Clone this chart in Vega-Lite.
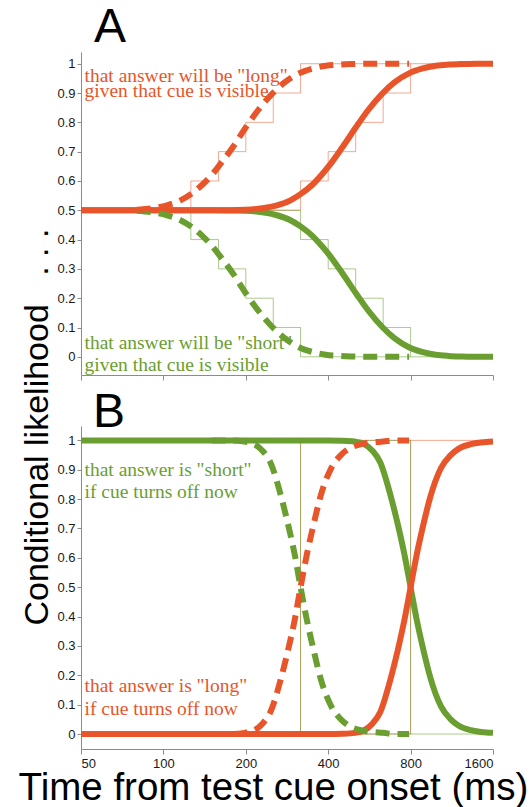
{
  "$schema": "https://vega.github.io/schema/vega-lite/v6.json",
  "background": "white",
  "padding": {"left": 18, "top": 3, "right": 5, "bottom": 0},
  "spacing": 51,
  "bounds": "flush",
  "config": {
    "view": {"stroke": null},
    "axis": {
      "grid": false,
      "domainColor": "#8c8c8c",
      "tickColor": "#8c8c8c",
      "labelFont": "Liberation Sans",
      "labelFontSize": 13,
      "labelColor": "#1a1a1a",
      "titleFont": "Liberation Sans",
      "titleFontWeight": "normal",
      "titleColor": "#000000"
    },
    "title": {"font": "Liberation Sans", "fontWeight": "normal", "color": "#000000"}
  },
  "datasets": {
    "Acurves": [
      {"s":"RS","x":50,"y":0.5},{"s":"RS","x":150,"y":0.5},{"s":"RS","x":200,"y":0.502},{"s":"RS","x":230,"y":0.507},{"s":"RS","x":260,"y":0.517},{"s":"RS","x":290,"y":0.533},{"s":"RS","x":317,"y":0.555},{"s":"RS","x":351,"y":0.588},{"s":"RS","x":380,"y":0.623},{"s":"RS","x":404,"y":0.653},{"s":"RS","x":450,"y":0.714},{"s":"RS","x":505,"y":0.783},{"s":"RS","x":560,"y":0.842},{"s":"RS","x":633,"y":0.9},{"s":"RS","x":700,"y":0.937},{"s":"RS","x":792,"y":0.968},{"s":"RS","x":880,"y":0.983},{"s":"RS","x":988,"y":0.993},{"s":"RS","x":1100,"y":0.997},{"s":"RS","x":1240,"y":0.999},{"s":"RS","x":1400,"y":1.0},{"s":"RS","x":1600,"y":1.0},
      {"s":"GS","x":50,"y":0.5},{"s":"GS","x":150,"y":0.5},{"s":"GS","x":200,"y":0.498},{"s":"GS","x":230,"y":0.493},{"s":"GS","x":260,"y":0.483},{"s":"GS","x":290,"y":0.467},{"s":"GS","x":317,"y":0.445},{"s":"GS","x":351,"y":0.412},{"s":"GS","x":380,"y":0.377},{"s":"GS","x":404,"y":0.347},{"s":"GS","x":450,"y":0.286},{"s":"GS","x":505,"y":0.217},{"s":"GS","x":560,"y":0.158},{"s":"GS","x":633,"y":0.1},{"s":"GS","x":700,"y":0.063},{"s":"GS","x":792,"y":0.032},{"s":"GS","x":880,"y":0.017},{"s":"GS","x":988,"y":0.007},{"s":"GS","x":1100,"y":0.003},{"s":"GS","x":1240,"y":0.001},{"s":"GS","x":1400,"y":0.0},{"s":"GS","x":1600,"y":0.0},
      {"s":"RD","x":80,"y":0.502},{"s":"RD","x":91,"y":0.507},{"s":"RD","x":103,"y":0.517},{"s":"RD","x":115,"y":0.533},{"s":"RD","x":126,"y":0.555},{"s":"RD","x":139,"y":0.588},{"s":"RD","x":151,"y":0.623},{"s":"RD","x":160,"y":0.653},{"s":"RD","x":179,"y":0.714},{"s":"RD","x":200,"y":0.783},{"s":"RD","x":222,"y":0.842},{"s":"RD","x":251,"y":0.9},{"s":"RD","x":278,"y":0.937},{"s":"RD","x":314,"y":0.968},{"s":"RD","x":349,"y":0.983},{"s":"RD","x":392,"y":0.993},{"s":"RD","x":437,"y":0.997},{"s":"RD","x":492,"y":0.999},{"s":"RD","x":556,"y":1.0},{"s":"RD","x":790,"y":1.0},
      {"s":"GD","x":80,"y":0.498},{"s":"GD","x":91,"y":0.493},{"s":"GD","x":103,"y":0.483},{"s":"GD","x":115,"y":0.467},{"s":"GD","x":126,"y":0.445},{"s":"GD","x":139,"y":0.412},{"s":"GD","x":151,"y":0.377},{"s":"GD","x":160,"y":0.347},{"s":"GD","x":179,"y":0.286},{"s":"GD","x":200,"y":0.217},{"s":"GD","x":222,"y":0.158},{"s":"GD","x":251,"y":0.1},{"s":"GD","x":278,"y":0.063},{"s":"GD","x":314,"y":0.032},{"s":"GD","x":349,"y":0.017},{"s":"GD","x":392,"y":0.007},{"s":"GD","x":437,"y":0.003},{"s":"GD","x":492,"y":0.001},{"s":"GD","x":556,"y":0.0},{"s":"GD","x":790,"y":0.0}
    ],
    "Asteps": [
      {"s":"RS","x":50,"y":0.5},{"s":"RS","x":317,"y":0.6},{"s":"RS","x":400,"y":0.7},{"s":"RS","x":504,"y":0.8},{"s":"RS","x":635,"y":0.9},{"s":"RS","x":800,"y":1.0},{"s":"RS","x":1600,"y":1.0},
      {"s":"GS","x":50,"y":0.5},{"s":"GS","x":317,"y":0.4},{"s":"GS","x":400,"y":0.3},{"s":"GS","x":504,"y":0.2},{"s":"GS","x":635,"y":0.1},{"s":"GS","x":800,"y":0.0},{"s":"GS","x":1600,"y":0.0},
      {"s":"RD","x":50,"y":0.5},{"s":"RD","x":126,"y":0.6},{"s":"RD","x":159,"y":0.7},{"s":"RD","x":200,"y":0.8},{"s":"RD","x":252,"y":0.9},{"s":"RD","x":317,"y":1.0},{"s":"RD","x":800,"y":1.0},
      {"s":"GD","x":50,"y":0.5},{"s":"GD","x":126,"y":0.4},{"s":"GD","x":159,"y":0.3},{"s":"GD","x":200,"y":0.2},{"s":"GD","x":252,"y":0.1},{"s":"GD","x":317,"y":0.0},{"s":"GD","x":800,"y":0.0}
    ],
    "Atext": [
      {"c":"long","x":51.5,"y":0.937,"t":"that answer will be \"long\""},
      {"c":"long","x":51.5,"y":0.886,"t":"given that cue is visible"},
      {"c":"short","x":51.5,"y":0.027,"t":"that answer will be \"short\""},
      {"c":"short","x":51.5,"y":-0.048,"t":"given that cue is visible"}
    ],
    "Bcurves": [
      {"s":"RS","x":50,"y":0},{"s":"RS","x":400,"y":0},{"s":"RS","x":450,"y":0.001},{"s":"RS","x":500,"y":0.004},{"s":"RS","x":540,"y":0.012},{"s":"RS","x":580,"y":0.035},{"s":"RS","x":620,"y":0.075},{"s":"RS","x":677,"y":0.19},{"s":"RS","x":720,"y":0.29},{"s":"RS","x":760,"y":0.39},{"s":"RS","x":800,"y":0.5},{"s":"RS","x":842,"y":0.61},{"s":"RS","x":889,"y":0.71},{"s":"RS","x":946,"y":0.81},{"s":"RS","x":1032,"y":0.905},{"s":"RS","x":1121,"y":0.95},{"s":"RS","x":1200,"y":0.972},{"s":"RS","x":1327,"y":0.987},{"s":"RS","x":1450,"y":0.993},{"s":"RS","x":1600,"y":0.996},
      {"s":"GS","x":50,"y":1},{"s":"GS","x":400,"y":1},{"s":"GS","x":450,"y":0.999},{"s":"GS","x":500,"y":0.996},{"s":"GS","x":540,"y":0.988},{"s":"GS","x":580,"y":0.965},{"s":"GS","x":620,"y":0.925},{"s":"GS","x":677,"y":0.81},{"s":"GS","x":720,"y":0.71},{"s":"GS","x":760,"y":0.61},{"s":"GS","x":800,"y":0.5},{"s":"GS","x":842,"y":0.39},{"s":"GS","x":889,"y":0.29},{"s":"GS","x":946,"y":0.19},{"s":"GS","x":1032,"y":0.095},{"s":"GS","x":1121,"y":0.05},{"s":"GS","x":1200,"y":0.028},{"s":"GS","x":1327,"y":0.013},{"s":"GS","x":1450,"y":0.007},{"s":"GS","x":1600,"y":0.004},
      {"s":"RD","x":150,"y":0},{"s":"RD","x":180,"y":0},{"s":"RD","x":198,"y":0.004},{"s":"RD","x":214,"y":0.012},{"s":"RD","x":230,"y":0.035},{"s":"RD","x":246,"y":0.075},{"s":"RD","x":269,"y":0.19},{"s":"RD","x":286,"y":0.29},{"s":"RD","x":302,"y":0.39},{"s":"RD","x":317,"y":0.5},{"s":"RD","x":334,"y":0.61},{"s":"RD","x":353,"y":0.71},{"s":"RD","x":375,"y":0.81},{"s":"RD","x":410,"y":0.905},{"s":"RD","x":445,"y":0.95},{"s":"RD","x":476,"y":0.972},{"s":"RD","x":527,"y":0.987},{"s":"RD","x":575,"y":0.993},{"s":"RD","x":635,"y":0.996},{"s":"RD","x":700,"y":1.0},{"s":"RD","x":790,"y":1.0},
      {"s":"GD","x":150,"y":1},{"s":"GD","x":180,"y":1},{"s":"GD","x":198,"y":0.996},{"s":"GD","x":214,"y":0.988},{"s":"GD","x":230,"y":0.965},{"s":"GD","x":246,"y":0.925},{"s":"GD","x":269,"y":0.81},{"s":"GD","x":286,"y":0.71},{"s":"GD","x":302,"y":0.61},{"s":"GD","x":317,"y":0.5},{"s":"GD","x":334,"y":0.39},{"s":"GD","x":353,"y":0.29},{"s":"GD","x":375,"y":0.19},{"s":"GD","x":410,"y":0.095},{"s":"GD","x":445,"y":0.05},{"s":"GD","x":476,"y":0.028},{"s":"GD","x":527,"y":0.013},{"s":"GD","x":575,"y":0.007},{"s":"GD","x":635,"y":0.004},{"s":"GD","x":700,"y":0.0},{"s":"GD","x":790,"y":0.0}
    ],
    "Bsteps": [
      {"s":"RD","x":50,"y":0},{"s":"RD","x":317,"y":1},{"s":"RD","x":800,"y":1},
      {"s":"GD","x":50,"y":1},{"s":"GD","x":317,"y":0},{"s":"GD","x":800,"y":0},
      {"s":"RS","x":50,"y":0},{"s":"RS","x":800,"y":1},{"s":"RS","x":1600,"y":1},
      {"s":"GS","x":50,"y":1},{"s":"GS","x":800,"y":0},{"s":"GS","x":1600,"y":0}
    ],
    "Btext": [
      {"c":"short","x":51.5,"y":0.879,"t":"that answer is \"short\""},
      {"c":"short","x":51.5,"y":0.803,"t":"if cue turns off now"},
      {"c":"long","x":51.5,"y":0.142,"t":"that answer is \"long\""},
      {"c":"long","x":51.5,"y":0.066,"t":"if cue turns off now"}
    ]
  },
  "vconcat": [
    {
      "width": 412,
      "height": 323,
      "title": {"text": "A", "anchor": "start", "frame": "group", "fontSize": 48, "baseline": "alphabetic", "offset": -38, "dx": 13},
      "encoding": {
        "x": {"field": "x", "type": "quantitative", "scale": {"type": "log", "base": 2, "domain": [50, 1600], "nice": false},
              "axis": {"values": [50, 100, 200, 400, 800, 1600], "labels": false, "title": null, "tickSize": 5}},
        "y": {"field": "y", "type": "quantitative", "scale": {"domain": [-0.062, 1.04], "nice": false, "zero": false},
              "axis": {"values": [0, 0.1, 0.2, 0.3, 0.4, 0.5, 0.6, 0.7, 0.8, 0.9, 1], "format": "~g", "tickSize": 4, "labelPadding": 2,
                       "title": "Conditional likelihood\u00a0\u00a0\u00a0.\u00a0.\u00a0.", "titleFontSize": 34, "titleAngle": 270,
                       "titleAlign": "left", "titleBaseline": "alphabetic", "titleX": -34, "titleY": 573}}
      },
      "layer": [
        {"data": {"name": "Asteps"}, "transform": [{"filter": "datum.s === 'RS' || datum.s === 'RD'"}], "mark": {"type": "line", "interpolate": "step-after", "strokeWidth": 1, "opacity": 0.5, "color": "#E8552A"},
         "encoding": {"detail": {"field": "s"}}},
        {"data": {"name": "Asteps"}, "transform": [{"filter": "datum.s === 'GS' || datum.s === 'GD'"}], "mark": {"type": "line", "interpolate": "step-after", "strokeWidth": 1, "opacity": 0.55, "color": "#6A9E30"},
         "encoding": {"detail": {"field": "s"}}},
        {"data": {"name": "Acurves"}, "transform": [{"filter": "datum.s === 'GS'"}], "mark": {"type": "line", "interpolate": "monotone", "color": "#6A9E30", "strokeWidth": 6}, "encoding": {}},
        {"data": {"name": "Acurves"}, "transform": [{"filter": "datum.s === 'RS'"}], "mark": {"type": "line", "interpolate": "monotone", "color": "#E8552A", "strokeWidth": 6}, "encoding": {}},
        {"data": {"name": "Acurves"}, "transform": [{"filter": "datum.s === 'GD'"}], "mark": {"type": "line", "interpolate": "monotone", "color": "#6A9E30", "strokeWidth": 6, "strokeDash": [14, 8]}, "encoding": {}},
        {"data": {"name": "Acurves"}, "transform": [{"filter": "datum.s === 'RD'"}], "mark": {"type": "line", "interpolate": "monotone", "color": "#E8552A", "strokeWidth": 6, "strokeDash": [14, 8]}, "encoding": {}},
        {"data": {"name": "Atext"}, "transform": [{"filter": "datum.c === 'long'"}], "mark": {"type": "text", "align": "left", "baseline": "alphabetic", "font": "Liberation Serif", "fontSize": 19.5, "color": "#E8552A"},
         "encoding": {"text": {"field": "t"}}},
        {"data": {"name": "Atext"}, "transform": [{"filter": "datum.c === 'short'"}], "mark": {"type": "text", "align": "left", "baseline": "alphabetic", "font": "Liberation Serif", "fontSize": 19.5, "color": "#6A9E30"},
         "encoding": {"text": {"field": "t"}}}
      ]
    },
    {
      "width": 412,
      "height": 323,
      "title": {"text": "B", "anchor": "start", "frame": "group", "fontSize": 48, "baseline": "alphabetic", "offset": -49, "dx": 12},
      "encoding": {
        "x": {"field": "x", "type": "quantitative", "scale": {"type": "log", "base": 2, "domain": [50, 1600], "nice": false},
              "axis": {"values": [50, 100, 200, 400, 800, 1600], "format": "d", "tickSize": 5, "labelPadding": 3,
                       "title": "Time from test cue onset (ms)", "titleFontSize": 38.5, "titleAlign": "center", "titleBaseline": "alphabetic", "titleX": 192, "titleY": 50}},
        "y": {"field": "y", "type": "quantitative", "scale": {"domain": [-0.051, 1.049], "nice": false, "zero": false},
              "axis": {"values": [0, 0.1, 0.2, 0.3, 0.4, 0.5, 0.6, 0.7, 0.8, 0.9, 1], "format": "~g", "tickSize": 4, "labelPadding": 2, "title": null}}
      },
      "layer": [
        {"data": {"name": "Bsteps"}, "transform": [{"filter": "datum.s === 'RS' || datum.s === 'RD'"}], "mark": {"type": "line", "interpolate": "step-after", "strokeWidth": 1, "opacity": 0.5, "color": "#E8552A"},
         "encoding": {"detail": {"field": "s"}}},
        {"data": {"name": "Bsteps"}, "transform": [{"filter": "datum.s === 'GS' || datum.s === 'GD'"}], "mark": {"type": "line", "interpolate": "step-after", "strokeWidth": 1, "opacity": 0.55, "color": "#6A9E30"},
         "encoding": {"detail": {"field": "s"}}},
        {"data": {"name": "Bcurves"}, "transform": [{"filter": "datum.s === 'GS'"}], "mark": {"type": "line", "interpolate": "monotone", "color": "#6A9E30", "strokeWidth": 6}, "encoding": {}},
        {"data": {"name": "Bcurves"}, "transform": [{"filter": "datum.s === 'RS'"}], "mark": {"type": "line", "interpolate": "monotone", "color": "#E8552A", "strokeWidth": 6}, "encoding": {}},
        {"data": {"name": "Bcurves"}, "transform": [{"filter": "datum.s === 'GD'"}], "mark": {"type": "line", "interpolate": "monotone", "color": "#6A9E30", "strokeWidth": 6, "strokeDash": [14, 8]}, "encoding": {}},
        {"data": {"name": "Bcurves"}, "transform": [{"filter": "datum.s === 'RD'"}], "mark": {"type": "line", "interpolate": "monotone", "color": "#E8552A", "strokeWidth": 6, "strokeDash": [14, 8]}, "encoding": {}},
        {"data": {"name": "Btext"}, "transform": [{"filter": "datum.c === 'short'"}], "mark": {"type": "text", "align": "left", "baseline": "alphabetic", "font": "Liberation Serif", "fontSize": 19.5, "color": "#6A9E30"},
         "encoding": {"text": {"field": "t"}}},
        {"data": {"name": "Btext"}, "transform": [{"filter": "datum.c === 'long'"}], "mark": {"type": "text", "align": "left", "baseline": "alphabetic", "font": "Liberation Serif", "fontSize": 19.5, "color": "#E8552A"},
         "encoding": {"text": {"field": "t"}}}
      ]
    }
  ]
}
